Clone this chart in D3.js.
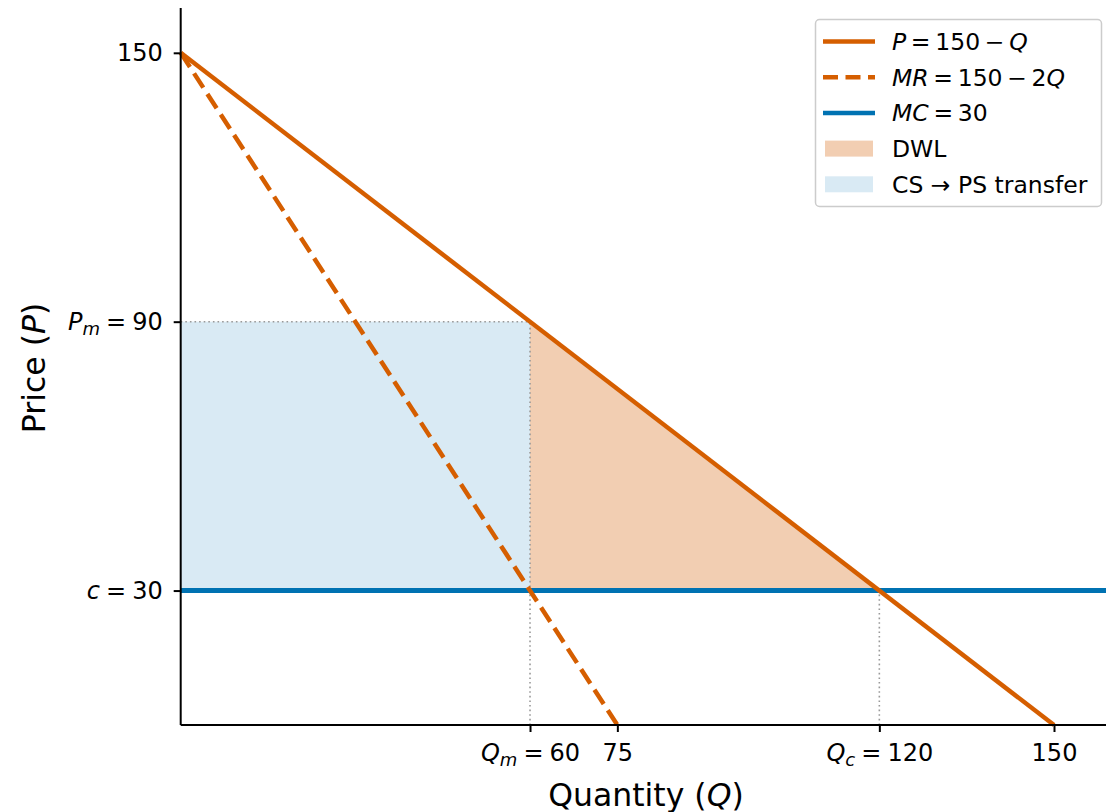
<!DOCTYPE html>
<html>
<head>
<meta charset="utf-8">
<style>
  body { margin: 0; background: #fff; }
  text { font-family: "DejaVu Sans", sans-serif; }
</style>
</head>
<body>
<svg width="1106" height="812"></svg>
<script src="https://d3js.org/d3.v7.min.js"></script>
<script>
// demand P = 150 - Q, MR = 150 - 2Q, MC = 30
var demandQ = [0, 150], demandP = [150, 0];
var mrQ = [0, 75], mrP = [150, 0];
var mc = 30;
var Qm = 60, Pm = 90, Qc = 120;
// tick labels: [value, parts] parts = [text, style]
var xTicks = [[60, [["Q", "i"], ["m", "sub"], ["\u2005=\u200560", ""]]], [75, [["75", ""]]],
              [120, [["Q", "i"], ["c", "sub"], ["\u2005=\u2005120", ""]]], [150, [["150", ""]]]];
var yTicks = [[150, [["150", ""]]], [90, [["P", "i"], ["m", "sub"], ["\u2005=\u200590", ""]]],
              [30, [["c", "i"], ["\u2005=\u200530", ""]]]];

var svg = d3.select("svg"),
    margin = {top: 8, left: 180.7};

var x = d3.scaleLinear().domain([0, 160]).range([margin.left, margin.left + 160 * 5.822]);
var y = d3.scaleLinear().domain([0, 160]).range([725, margin.top]);

var orange = "#d55e00", blue = "#0072b2";

// CS -> PS transfer rectangle
svg.append("rect")
    .attr("x", x(0)).attr("y", y(Pm))
    .attr("width", x(Qm) - x(0)).attr("height", y(mc) - y(Pm))
    .attr("fill", blue).attr("fill-opacity", 0.15);

// DWL triangle
svg.append("path")
    .datum([[Qm, Pm], [Qc, mc], [Qm, mc]])
    .attr("d", d3.line().x(function(d) { return x(d[0]); }).y(function(d) { return y(d[1]); }))
    .attr("fill", orange).attr("fill-opacity", 0.3);

// dotted guides
var guides = [[[0, Pm], [Qm, Pm]], [[Qm, 0], [Qm, Pm]], [[Qc, 0], [Qc, mc]]];
guides.forEach(function(g) {
  svg.append("line")
      .attr("x1", x(g[0][0])).attr("y1", y(g[0][1]))
      .attr("x2", x(g[1][0])).attr("y2", y(g[1][1]))
      .attr("stroke", "#999").attr("stroke-width", 1.6)
      .attr("stroke-dasharray", "1.6,3");
});

var line = d3.line().x(function(d) { return x(d[0]); }).y(function(d) { return y(d[1]); });

// MC
svg.append("line")
    .attr("x1", x(0)).attr("x2", x(160))
    .attr("y1", y(mc)).attr("y2", y(mc))
    .attr("stroke", blue).attr("stroke-width", 5);

// MR dashed
svg.append("path")
    .datum(mrQ.map(function(q, i) { return [q, mrP[i]]; }))
    .attr("d", line)
    .attr("fill", "none").attr("stroke", orange).attr("stroke-width", 4.5)
    .attr("stroke-dasharray", "17,7.5");

// Demand
svg.append("path")
    .datum(demandQ.map(function(q, i) { return [q, demandP[i]]; }))
    .attr("d", line)
    .attr("fill", "none").attr("stroke", orange).attr("stroke-width", 4.5);

function richText(sel, parts) {
  sel.text(null);
  parts.forEach(function(p) {
    var t = sel.append("tspan").text(p[0]);
    if (p[1] === "i") t.attr("font-style", "italic");
    if (p[1] === "sub") t.attr("font-style", "italic").attr("font-size", "18px").attr("dy", "0.3em");
    if (p[1] === "" && parts.length > 1 && parts[parts.length - 2][1] === "sub") t.attr("dy", "-0.22em");
  });
}

// axes
var xAxis = svg.append("g")
    .attr("transform", "translate(0,725)")
    .call(d3.axisBottom(x).tickValues(xTicks.map(function(d) { return d[0]; }))
        .tickSize(7).tickPadding(12));
var yAxis = svg.append("g")
    .attr("transform", "translate(" + x(0) + ",0)")
    .call(d3.axisLeft(y).tickValues(yTicks.map(function(d) { return d[0]; }))
        .tickSize(7).tickPadding(11));

[xAxis, yAxis].forEach(function(a) {
  a.selectAll(".domain").attr("stroke", "#000").attr("stroke-width", 2);
  a.selectAll(".tick line").attr("stroke", "#000").attr("stroke-width", 2);
  a.selectAll(".tick text").attr("font-size", "24px").attr("fill", "#000")
      .attr("font-family", "DejaVu Sans");
});
xAxis.select(".domain").attr("d", "M" + x(0) + ",0H1106");
yAxis.select(".domain").attr("d", "M0," + y(0) + "V" + y(160));

xAxis.selectAll(".tick text").each(function(d) {
  var t = xTicks.find(function(k) { return k[0] === d; });
  richText(d3.select(this), t[1]);
});
yAxis.selectAll(".tick text").each(function(d) {
  var t = yTicks.find(function(k) { return k[0] === d; });
  richText(d3.select(this), t[1]);
});

// axis labels
var xl = svg.append("text").attr("x", 646).attr("y", 806).attr("text-anchor", "middle")
    .attr("font-size", "31.5px");
xl.append("tspan").text("Quantity (");
xl.append("tspan").attr("font-style", "italic").text("Q");
xl.append("tspan").text(")");

var yl = svg.append("text").attr("transform", "translate(45,368) rotate(-90)")
    .attr("text-anchor", "middle").attr("font-size", "31.5px");
yl.append("tspan").text("Price (");
yl.append("tspan").attr("font-style", "italic").text("P");
yl.append("tspan").text(")");

// legend
var legendItems = [
  {type: "line", color: orange, dash: null, parts: [["P", "i"], ["\u2009=\u2009150\u2009\u2212\u2009", ""], ["Q", "i"]]},
  {type: "line", color: orange, dash: "15,7.5", parts: [["MR", "i"], ["\u2009=\u2009150\u2009\u2212\u20092", ""], ["Q", "i"]]},
  {type: "line", color: blue, dash: null, parts: [["MC", "i"], ["\u2009=\u200930", ""]]},
  {type: "patch", color: orange, op: 0.3, parts: [["DWL", ""]]},
  {type: "patch", color: blue, op: 0.15, parts: [["CS \u2192 PS transfer", ""]]}
];
var lg = svg.append("g");
lg.append("rect").attr("x", 815.5).attr("y", 19.5).attr("width", 286).attr("height", 187)
    .attr("rx", 4).attr("fill", "#fff").attr("fill-opacity", 0.8)
    .attr("stroke", "#ccc").attr("stroke-width", 1.5);
legendItems.forEach(function(it, i) {
  var cy = 41.5 + i * 35.7;
  if (it.type === "line") {
    lg.append("line").attr("x1", 823).attr("x2", 875).attr("y1", cy).attr("y2", cy)
        .attr("stroke", it.color).attr("stroke-width", 4.5)
        .attr("stroke-dasharray", it.dash);
  } else {
    lg.append("rect").attr("x", 825).attr("y", cy - 8).attr("width", 48).attr("height", 16)
        .attr("fill", it.color).attr("fill-opacity", it.op);
  }
  var t = lg.append("text").attr("x", 892).attr("y", cy + 8.5).attr("font-size", "23.5px");
  it.parts.forEach(function(p) {
    var s = t.append("tspan").text(p[0]);
    if (p[1] === "i") s.attr("font-style", "italic");
  });
});
</script>
</body>
</html>
